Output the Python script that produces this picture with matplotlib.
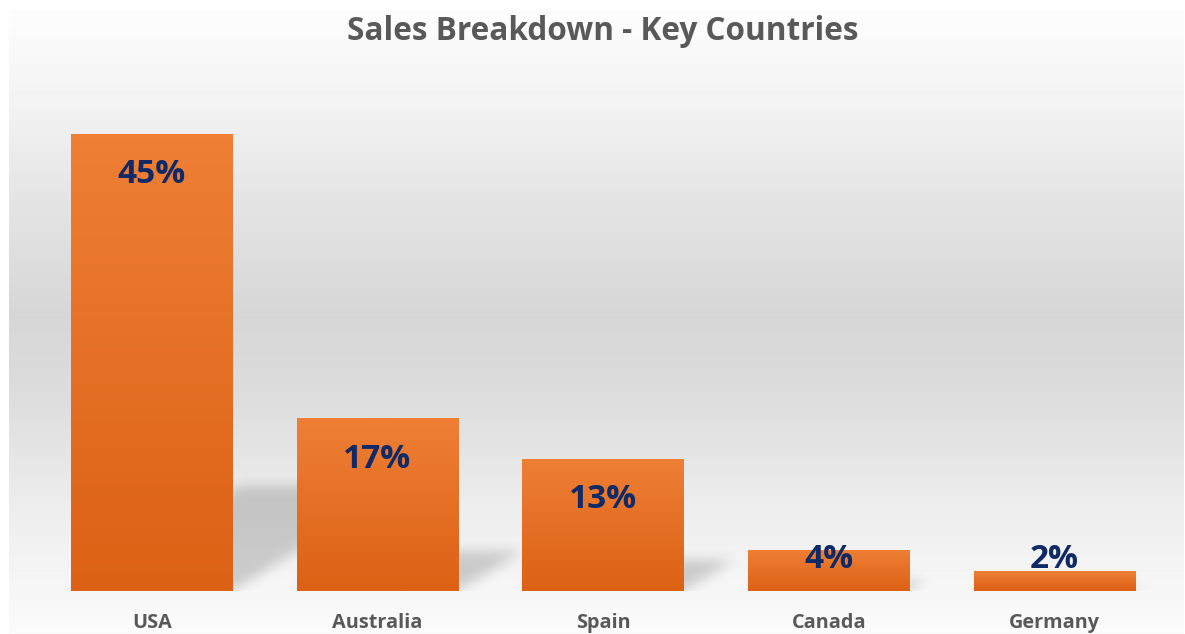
import numpy as np
import matplotlib
matplotlib.use("Agg")
import matplotlib.pyplot as plt
from matplotlib.colors import LinearSegmentedColormap

# data
countries = ["USA", "Australia", "Spain", "Canada", "Germany"]
share = [45, 17, 13, 4, 2]
labels = ["45%", "17%", "13%", "4%", "2%"]

title_color = "#595959"
label_color = "#0F2A66"
font = "Open Sans"

fig = plt.figure(figsize=(11.85, 6.34), dpi=100)
W, H = 1185, 634

# chart area background: light -> grey -> light
bg = fig.add_axes([9 / W, 0, 1175 / W, 624 / H])
ypix = np.arange(10, 634)
stops_y = [10, 100, 200, 317, 400, 500, 634]
stops_v = [253, 243, 228, 214, 221, 236, 251]
grey = np.interp(ypix, stops_y, stops_v) / 255.0
bg.imshow(np.repeat(grey[:, None], 2, axis=1), aspect="auto", cmap="gray",
          vmin=0, vmax=1, extent=[0, 1, 0, 1], origin="upper")
bg.axis("off")

ax = fig.add_axes([39 / W, 43 / H, (1167.4 - 39) / W, 508 / H])
ax.set_facecolor("none")
x = np.arange(len(countries))
width = 0.717

# perspective shadows behind the bars (skewed + blurred)
px_per_x = (1167.4 - 39) / len(countries)
px_per_y = 508 / 50
nx, ny = 1130, 140
gx = np.linspace(-0.5, len(countries) - 0.5, nx)
gy = np.linspace(0, ny / px_per_y, ny)
XX, YY = np.meshgrid(gx, gy)
mask = np.zeros_like(XX)
skew = 1.6 * px_per_y / px_per_x
for xi, v in zip(x, share):
    hs = 0.23 * v
    left = xi - width / 2 + skew * YY
    inside = (YY <= hs) & (XX >= left) & (XX <= left + width)
    mask[inside] = 1.0

def blur(a, sigma, axis):
    r = int(3 * sigma)
    k = np.exp(-0.5 * (np.arange(-r, r + 1) / sigma) ** 2)
    k /= k.sum()
    return np.apply_along_axis(lambda m: np.convolve(m, k, mode="same"), axis, a)

mask = blur(blur(mask, 6, 1), 6, 0)
shade = np.zeros((ny, nx, 4))
shade[..., 3] = mask * 0.17
ax.imshow(shade, extent=[gx[0], gx[-1], 0, gy[-1]], origin="lower",
          aspect="auto", zorder=1, interpolation="bilinear")

# bars with vertical orange gradient
bar_cmap = LinearSegmentedColormap.from_list("org", ["#DC6115", "#EE7F35"])
bars = ax.bar(x, share, width=width, color="#E87028", zorder=2)
grad = np.linspace(0, 1, 100)[:, None]
for b in bars:
    x0, y0 = b.get_x(), b.get_y()
    im = ax.imshow(grad, cmap=bar_cmap, aspect="auto", origin="lower",
                   extent=[x0, x0 + b.get_width(), y0, y0 + b.get_height()],
                   zorder=3)
    im.set_clip_path(b)
ax.set_xlim(-0.5, len(countries) - 0.5)
ax.set_ylim(0, 50)

# value labels (inside end, clamped near base for short bars)
for xi, v, lab in zip(x, share, labels):
    ly = max(v - 41 / px_per_y, 31 / px_per_y)
    ax.text(xi, ly, lab, ha="center", va="center", fontsize=24,
            fontweight="bold", color=label_color, family=font, zorder=5)

ax.set_xticks(x)
ax.set_xticklabels(countries, fontsize=14.3, fontweight="bold",
                   color=title_color, family=font)
ax.tick_params(axis="x", length=0, pad=16)
ax.set_yticks([])
for s in ax.spines.values():
    s.set_visible(False)

fig.text(603 / W, 1 - 32 / H, "Sales Breakdown - Key Countries", ha="center",
         va="center", fontsize=22.7, fontweight="bold", color=title_color,
         family=font)

fig.savefig("out.png", dpi=100)
